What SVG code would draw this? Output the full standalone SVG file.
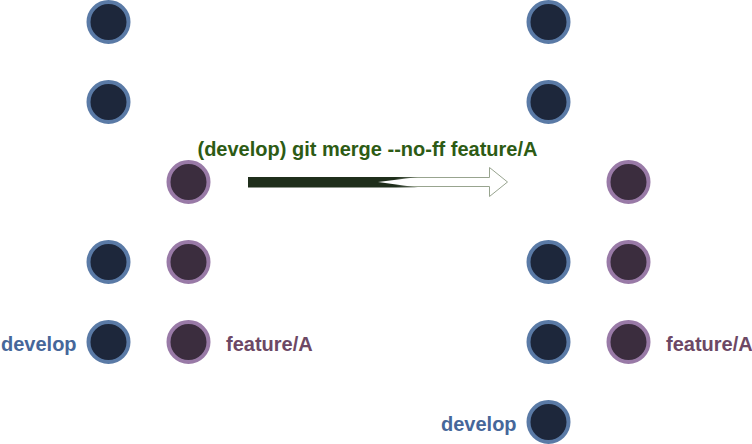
<svg xmlns="http://www.w3.org/2000/svg" width="752" height="444" viewBox="0 0 752 444">
<style>
.d{fill:#1d273b;stroke:#5a7aa6;stroke-width:4}
.f{fill:#3b2d3e;stroke:#997aa7;stroke-width:4}
.t{font-family:"Liberation Sans",Arial,sans-serif;font-weight:bold;font-size:20px}
.td{fill:#46679a}
.tf{fill:#6c4865}
.tg{fill:#2d5b14}
.c{stroke:#ffffff;stroke-width:1;fill:none}
</style>
<defs>
<linearGradient id="gw" x1="360" y1="0" x2="420" y2="0" gradientUnits="userSpaceOnUse">
<stop offset="0" stop-color="#1f2e1b"/>
<stop offset="0.6" stop-color="#1f2e1b"/>
<stop offset="1" stop-color="#1f2e1b" stop-opacity="0.3"/>
</linearGradient>
</defs>
<g id="connectors">
<line class="c" x1="108.5" y1="119" x2="108.5" y2="125"/>
<line class="c" x1="108.5" y1="239" x2="108.5" y2="245"/>
<line class="c" x1="108.5" y1="279" x2="108.5" y2="285"/>
<line class="c" x1="108.5" y1="319" x2="108.5" y2="325"/>
<line class="c" x1="188.5" y1="199" x2="188.5" y2="205"/>
<line class="c" x1="188.5" y1="239" x2="188.5" y2="245"/>
<line class="c" x1="188.5" y1="279" x2="188.5" y2="285"/>
<line class="c" x1="188.5" y1="319" x2="188.5" y2="325"/>
<line class="c" x1="548.5" y1="119" x2="548.5" y2="125"/>
<line class="c" x1="548.5" y1="239" x2="548.5" y2="245"/>
<line class="c" x1="548.5" y1="279" x2="548.5" y2="285"/>
<line class="c" x1="548.5" y1="319" x2="548.5" y2="325"/>
<line class="c" x1="548.5" y1="359" x2="548.5" y2="365"/>
<line class="c" x1="548.5" y1="399" x2="548.5" y2="405"/>
<line class="c" x1="628.5" y1="199" x2="628.5" y2="205"/>
<line class="c" x1="628.5" y1="239" x2="628.5" y2="245"/>
<line class="c" x1="628.5" y1="279" x2="628.5" y2="285"/>
<line class="c" x1="628.5" y1="319" x2="628.5" y2="325"/>
<line class="c" x1="614" y1="356" x2="610" y2="360"/>
<line class="c" x1="562" y1="406" x2="566" y2="410"/>
</g>
<g id="left-develop">
<circle id="ld1" class="d" cx="108.5" cy="22" r="20"/>
<circle id="ld2" class="d" cx="108.5" cy="102" r="20"/>
<circle id="ld3" class="d" cx="108.5" cy="262" r="20"/>
<circle id="ld4" class="d" cx="108.5" cy="342" r="20"/>
</g>
<g id="left-feature">
<circle id="lf1" class="f" cx="188.5" cy="182" r="20"/>
<circle id="lf2" class="f" cx="188.5" cy="262" r="20"/>
<circle id="lf3" class="f" cx="188.5" cy="342" r="20"/>
</g>
<g id="right-develop">
<circle id="rd1" class="d" cx="548.5" cy="22" r="20"/>
<circle id="rd2" class="d" cx="548.5" cy="102" r="20"/>
<circle id="rd3" class="d" cx="548.5" cy="262" r="20"/>
<circle id="rd4" class="d" cx="548.5" cy="342" r="20"/>
<circle id="rd5" class="d" cx="548.5" cy="422" r="20"/>
</g>
<g id="right-feature">
<circle id="rf1" class="f" cx="628.5" cy="182" r="20"/>
<circle id="rf2" class="f" cx="628.5" cy="262" r="20"/>
<circle id="rf3" class="f" cx="628.5" cy="342" r="20"/>
</g>
<g id="merge-arrow">
<path d="M248.5,177.5 L489.5,177.5 L489.5,167.5 L507.5,182 L489.5,196.5 L489.5,186.5 L248.5,186.5 Z" fill="#ffffff" stroke="#98a48f" stroke-width="1"/>
<path d="M248,177 L418,177 L378,182 L418,187.5 L248,187.5 Z" fill="url(#gw)"/>
<text class="t tg" x="367.5" y="156" text-anchor="middle">(develop) git merge --no-ff feature/A</text>
</g>
<g id="labels">
<text class="t td" x="1" y="351">develop</text>
<text class="t tf" x="226" y="351">feature/A</text>
<text class="t tf" x="666" y="351">feature/A</text>
<text class="t td" x="441" y="431">develop</text>
</g>
</svg>
